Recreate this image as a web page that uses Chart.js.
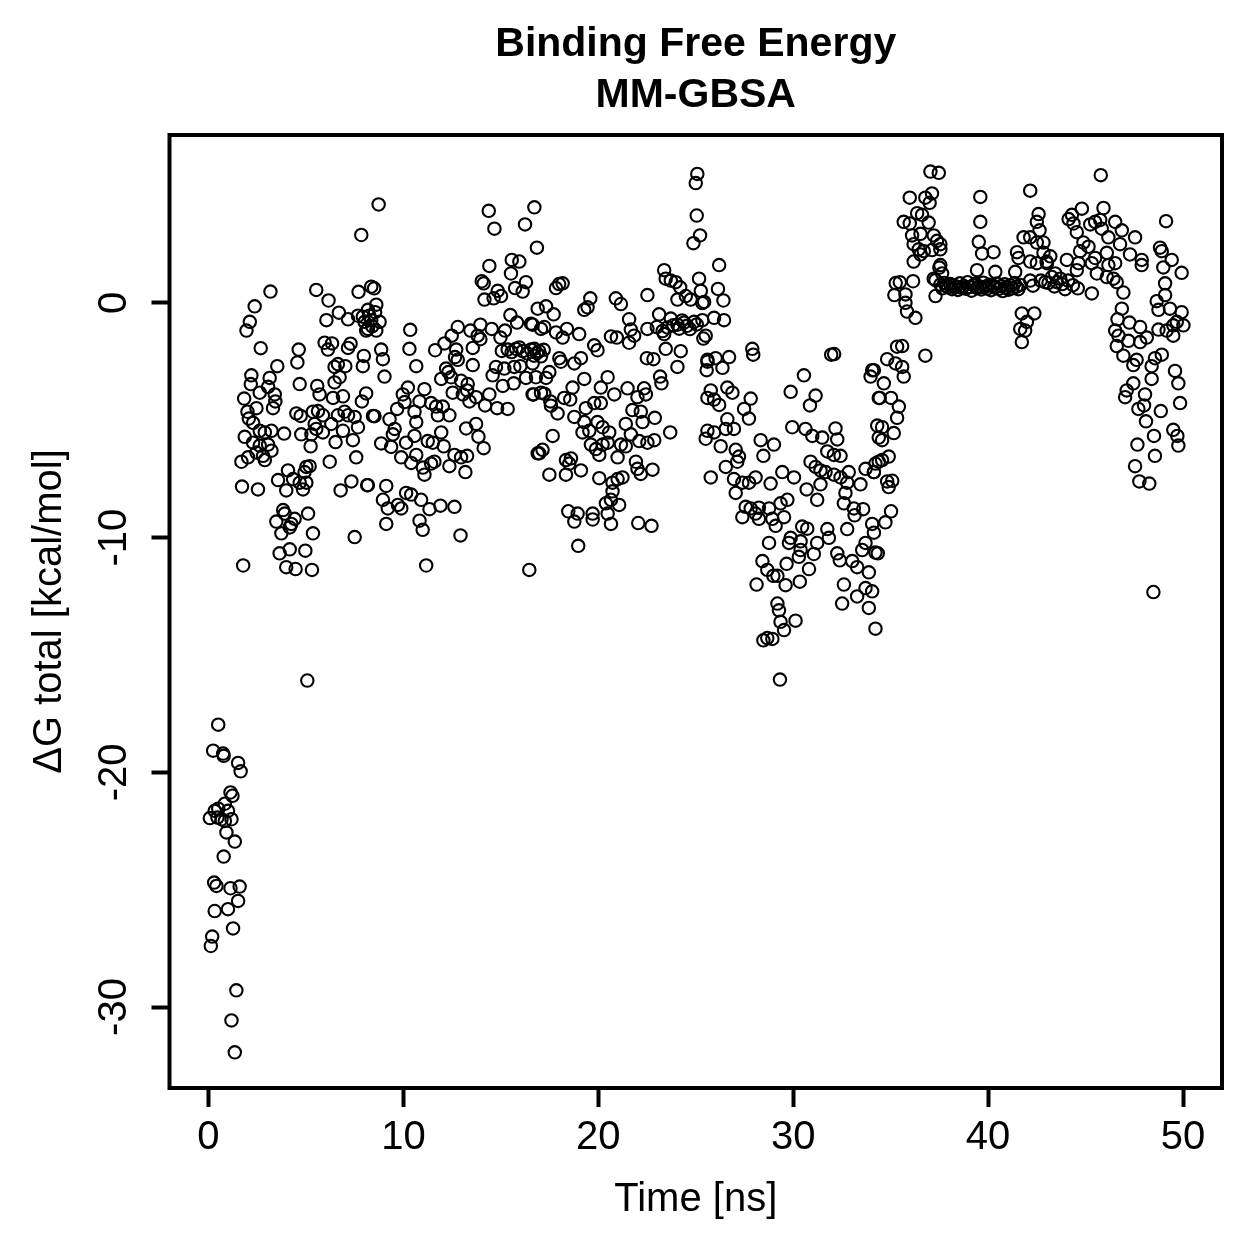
<!DOCTYPE html>
<html>
<head>
<meta charset="utf-8">
<script src="https://cdn.jsdelivr.net/npm/chart.js@4.4.1/dist/chart.umd.min.js"></script>
<style>
html,body{margin:0;padding:0;background:#ffffff;}
#wrap{width:1259px;height:1259px;}
</style>
</head>
<body>
<div id="wrap"><canvas id="c" width="1259" height="1259"></canvas></div>
<script>
// ---- Data: [time (ns), ΔG total (kcal/mol)] ----
const phaseA = [[0.50,-17.97],[0.24,-19.08],[0.75,-19.20],[0.78,-19.30],[1.52,-19.60],[1.65,-19.96],[1.13,-20.86],[1.23,-21.00],[0.84,-21.34],[0.50,-21.55],
[1.00,-21.64],[0.32,-21.64],[0.07,-21.95],[0.46,-21.93],[0.67,-22.00],[0.84,-22.07],[1.18,-22.00],[0.92,-22.56],[1.35,-22.95],[0.78,-23.59],
[0.29,-24.70],[0.41,-24.84],[1.13,-24.94],[1.60,-24.87],[1.52,-25.48],[1.00,-25.83],[0.32,-25.91],[1.26,-26.65],[0.19,-27.00],[0.12,-27.40],
[1.43,-29.29],[1.18,-30.57],[1.35,-31.93]];

const phaseB = [[7.84,2.89],[3.18,0.48],[5.53,0.55],[6.16,0.10],[7.70,0.47],[8.35,0.69],[2.37,-0.15],[2.12,-0.81],[1.95,-1.18],[6.05,-0.74],
[6.69,-0.42],[7.16,-0.70],[7.67,-0.55],[8.01,-0.81],[8.09,-1.18],[2.68,-1.93],[4.63,-1.99],[4.56,-2.54],[5.96,-1.70],[6.34,-1.73],
[6.13,-1.99],[7.16,-1.92],[7.29,-1.74],[7.97,-2.26],[7.92,-2.70],[3.53,-2.70],[6.47,-2.73],[6.64,-2.61],[7.02,-2.70],[2.20,-3.09],
[3.14,-3.20],[6.73,-3.17],[6.47,-3.39],[2.17,-3.46],[3.06,-3.58],[2.63,-3.83],[4.68,-3.46],[5.58,-3.54],[5.70,-3.90],[6.90,-3.98],
[6.39,-4.05],[8.09,-3.86],[7.87,-4.20],[1.83,-4.08],[3.40,-3.90],[3.43,-4.20],[3.31,-4.49],[2.46,-4.49],[2.00,-4.64],[2.07,-4.93],
[2.29,-5.11],[4.51,-4.71],[4.73,-4.82],[5.36,-4.64],[5.62,-4.61],[5.87,-4.79],[6.64,-4.79],[6.98,-4.64],[7.16,-4.79],[7.50,-4.86],
[7.67,-5.30],[8.44,-4.82],[5.45,-5.16],[5.53,-5.37],[5.87,-5.52],[6.30,-5.16],[6.90,-5.45],[3.88,-5.57],[4.76,-5.60],[5.28,-5.60],
[1.86,-5.71],[2.63,-5.45],[2.89,-5.52],[3.23,-5.45],[2.29,-5.96],[2.63,-6.08],[3.06,-6.04],[3.23,-6.30],[2.46,-6.38],[2.80,-6.52],
[2.89,-6.70],[5.24,-6.11],[6.52,-5.93],[7.41,-5.85],[2.03,-6.58],[1.69,-6.77],[6.22,-6.77],[7.58,-6.58],[4.08,-7.14],[5.02,-6.99],
[5.19,-6.96],[4.93,-7.21],[3.57,-7.55],[4.34,-7.51],[4.68,-7.66],[5.02,-7.66],[1.72,-7.83],[2.54,-7.95],[3.99,-7.99],[4.85,-7.95],
[6.78,-7.99],[7.33,-7.61],[8.14,-7.77],[3.83,-8.83],[3.91,-8.98],[3.48,-9.32],[4.42,-9.20],[4.25,-9.42],[4.17,-9.57],[5.11,-8.98],
[3.74,-9.82],[5.36,-9.82],[7.50,-9.98],[4.17,-10.50],[4.97,-10.56],[3.65,-10.67],[1.78,-11.19],[3.99,-11.26],[4.47,-11.34],[5.31,-11.38],
[5.07,-16.09],[8.25,-0.55],[8.40,-1.00],[8.55,-0.40]];

const phaseC = [[8.73,4.19],[14.38,3.92],[14.67,3.16],[16.72,4.07],[16.24,3.34],[16.85,2.35],[14.41,1.57],[15.56,1.83],[15.95,1.76],[15.52,1.25],
[14.02,0.92],[14.12,0.83],[14.84,0.51],[14.63,0.19],[15.01,0.29],[14.16,0.14],[15.73,0.63],[16.29,0.88],[16.12,0.48],[16.89,-0.25],
[8.50,0.62],[8.61,-0.08],[8.18,-0.30],[7.92,-0.59],[8.35,-0.74],[8.78,-0.81],[8.61,-1.18],[8.18,-1.11],[10.35,-1.15],[10.31,-1.96],
[10.66,-2.70],[8.86,-1.99],[8.95,-2.40],[9.03,-3.14],[8.52,-4.83],[11.63,-2.02],[12.11,-1.73],[12.48,-1.40],[12.79,-1.03],[13.44,-1.18],
[13.81,-1.40],[13.95,-1.55],[13.95,-0.93],[13.56,-1.92],[14.53,-1.11],[14.98,-1.48],[15.21,-1.18],[15.49,-0.52],[15.83,-0.84],[16.55,-0.89],
[17.06,-1.11],[12.71,-1.99],[12.79,-2.43],[12.65,-2.31],[13.56,-2.65],[12.19,-2.80],[12.31,-2.95],[11.94,-3.24],[12.45,-3.17],[12.96,-3.32],
[13.30,-3.46],[13.27,-3.73],[12.53,-3.83],[13.05,-3.90],[13.39,-4.20],[13.73,-4.02],[14.19,-4.37],[14.41,-3.90],[14.58,-3.09],[14.75,-2.73],
[15.18,-2.80],[15.35,-1.99],[15.78,-1.96],[16.12,-2.06],[16.55,-1.99],[16.85,-2.14],[15.69,-2.73],[16.00,-2.70],[16.29,-3.20],[16.80,-3.17],
[16.68,-3.90],[17.06,-3.83],[15.10,-3.54],[15.66,-3.43],[14.81,-4.49],[15.35,-4.52],[11.08,-3.68],[10.23,-3.61],[9.97,-3.90],[9.68,-4.52],
[10.06,-4.23],[10.57,-4.64],[10.83,-4.20],[11.42,-4.27],[11.68,-4.42],[12.02,-4.42],[12.36,-4.79],[11.77,-4.79],[10.66,-5.08],[9.29,-4.96],
[9.55,-5.37],[9.46,-5.60],[8.86,-5.99],[9.37,-6.14],[10.14,-5.96],[10.57,-5.67],[11.25,-5.89],[11.51,-5.96],[11.94,-5.52],[12.07,-6.11],
[13.22,-5.35],[13.73,-5.16],[13.85,-5.70],[14.12,-6.19],[9.89,-6.58],[10.40,-6.82],[10.66,-6.48],[11.00,-7.02],[11.08,-7.32],[11.42,-6.85],
[11.59,-6.77],[12.36,-6.96],[12.62,-6.48],[12.96,-6.58],[13.27,-6.52],[13.18,-7.21],[16.89,-6.41],[8.18,-7.77],[9.12,-7.80],[8.95,-8.39],
[9.20,-8.76],[9.72,-8.61],[9.89,-8.76],[10.14,-8.10],[10.40,-8.17],[10.91,-8.39],[11.34,-8.79],[11.90,-8.64],[12.62,-8.69],[9.12,-9.42],
[10.83,-9.28],[10.99,-9.67],[12.93,-9.91],[11.17,-11.19],[16.46,-11.38],
[15.05,-2.05],[15.55,-2.10],[15.95,-1.90],[16.35,-2.15],[16.70,-2.25],[17.20,-2.00]];

const phaseD = [[25.08,5.49],[25.00,5.10],[25.05,3.72],[25.22,2.87],[24.88,2.54],[23.38,1.39],[23.46,1.03],[23.72,0.95],[23.97,0.88],[24.20,0.66],
[25.17,1.03],[25.26,0.51],[24.49,0.29],[24.74,0.14],[24.06,0.14],[25.34,-0.01],[22.52,0.33],[20.90,0.19],[21.16,-0.05],[19.59,0.19],
[19.45,-0.19],[19.28,-0.30],[17.99,0.80],[18.17,0.83],[17.83,0.63],[17.32,-0.15],[17.71,-0.49],[16.63,-0.93],[17.23,-1.03],[17.83,-1.26],
[18.17,-1.48],[18.39,-1.11],[19.02,-1.33],[19.79,-1.81],[19.96,-2.02],[20.65,-1.43],[20.95,-1.48],[21.58,-0.70],[21.67,-1.14],[21.84,-1.40],
[21.58,-1.70],[22.52,-1.11],[23.12,-0.49],[23.00,-1.03],[23.38,-1.33],[23.72,-0.67],[24.06,-0.93],[24.40,-0.84],[24.91,-0.81],[25.34,-0.74],
[25.39,-1.52],[23.46,-1.96],[24.23,-2.06],[24.06,-2.73],[22.49,-2.36],[22.83,-2.40],[23.17,-3.14],[23.24,-3.43],[25.60,-2.51],[25.56,-2.87],
[16.72,-1.96],[16.97,-2.06],[17.06,-2.28],[16.63,-2.58],[17.49,-2.95],[17.32,-3.20],[18.00,-2.36],[18.08,-2.51],[18.77,-2.58],[19.11,-2.36],
[19.28,-3.24],[18.68,-3.61],[16.63,-3.90],[17.23,-3.87],[17.54,-4.20],[17.57,-4.38],[17.91,-4.71],[18.25,-4.05],[18.56,-4.12],[20.48,-3.17],
[20.13,-3.61],[20.82,-3.90],[21.50,-3.64],[22.01,-4.02],[22.35,-3.64],[22.44,-3.90],[19.79,-4.27],[20.13,-4.27],[19.36,-4.49],[18.77,-4.86],
[19.28,-5.08],[19.96,-5.08],[19.19,-5.52],[19.54,-5.45],[20.22,-5.30],[20.56,-5.52],[21.75,-4.57],[22.18,-4.64],[22.27,-5.08],[21.41,-5.16],
[21.67,-5.60],[22.90,-4.90],[23.69,-5.52],[22.10,-5.89],[22.52,-5.96],[22.87,-5.85],[21.16,-6.04],[21.41,-6.11],[19.62,-6.04],[19.88,-6.23],
[20.22,-6.04],[20.48,-5.96],[20.05,-6.48],[20.99,-6.58],[17.66,-5.67],[17.14,-6.26],[16.97,-6.41],[18.34,-6.70],[18.60,-6.63],[18.51,-6.85],
[19.11,-7.14],[17.49,-7.32],[18.34,-7.32],[20.05,-7.47],[20.73,-7.66],[20.99,-7.51],[21.24,-7.44],[21.93,-6.77],[22.01,-7.07],[22.18,-7.29],
[22.78,-7.11],[20.73,-8.03],[20.65,-8.39],[20.39,-8.54],[21.07,-8.61],[20.48,-8.98],[18.46,-8.88],[18.94,-8.98],[18.77,-9.32],[19.71,-8.98],
[19.71,-9.23],[20.65,-9.42],[22.05,-9.38],[22.73,-9.50],[18.97,-10.35],
[23.55,-1.05],[23.85,-0.95],[24.15,-1.10],[24.55,-0.98],[24.70,-1.12],[25.05,-0.92],[23.30,-1.20],[24.30,-0.75]];

const phaseE = [[26.20,1.61],[26.14,0.59],[26.42,0.10],[25.43,0.04],[25.94,-0.64],[26.45,-0.74],[25.51,-1.40],[25.60,-2.43],[26.02,-2.36],[26.71,-2.31],
[26.37,-2.77],[27.90,-1.96],[27.95,-2.21],[30.55,-3.09],[31.95,-2.21],[32.10,-2.18],[34.05,-2.87],[33.97,-3.14],[29.87,-3.79],[31.15,-3.95],
[30.86,-4.37],[34.39,-4.05],[25.77,-3.73],[26.62,-3.61],[26.88,-3.83],[25.60,-4.05],[25.94,-4.12],[26.20,-4.35],[27.48,-4.52],[27.82,-4.08],
[27.73,-4.93],[26.62,-4.96],[26.54,-5.37],[26.96,-5.37],[25.60,-5.45],[25.94,-5.52],[25.51,-5.79],[26.28,-6.11],[27.05,-6.26],[27.22,-6.55],
[27.13,-6.77],[26.54,-6.99],[25.77,-7.44],[28.33,-5.85],[29.01,-6.04],[28.47,-6.52],[29.95,-5.30],[30.63,-5.37],[30.98,-5.67],[31.49,-5.74],
[32.17,-5.35],[32.26,-5.82],[31.75,-6.33],[32.09,-6.48],[32.43,-6.52],[30.89,-6.77],[31.15,-6.99],[31.40,-7.14],[31.66,-7.21],[32.09,-7.32],
[32.43,-7.44],[32.85,-7.21],[33.71,-7.07],[34.14,-7.21],[34.39,-6.77],[29.44,-7.21],[30.04,-7.44],[28.84,-7.70],[26.96,-7.51],[27.39,-7.66],
[27.73,-7.66],[28.07,-7.44],[27.05,-8.10],[32.77,-7.66],[33.45,-7.73],[31.40,-7.73],[30.69,-7.95],[31.23,-8.39],[29.70,-8.39],[29.35,-8.54],
[32.68,-8.10],[32.60,-8.54],[33.11,-8.76],[33.59,-8.79],[33.15,-9.05],[32.77,-9.64],[27.56,-8.69],[27.82,-8.76],[28.24,-8.73],[28.07,-8.98],
[28.24,-9.20],[28.76,-8.76],[28.93,-9.20],[29.53,-9.13],[29.10,-9.50],[27.39,-9.13],[30.46,-9.53],[30.72,-9.62],[31.75,-9.64],[29.87,-10.01],
[29.78,-10.23],[30.38,-10.16],[31.23,-10.23],[31.83,-10.01],[28.76,-10.23],[30.38,-10.53],[30.29,-10.82],[31.06,-10.70],[32.26,-10.67],[32.39,-10.97],
[33.03,-11.00],[33.28,-11.26],[33.88,-11.48],[34.05,-9.42],[34.14,-9.79],[33.71,-10.23],[34.22,-10.64],[33.54,-10.53],[28.42,-11.00],[28.67,-11.38],
[28.98,-11.63],[29.19,-11.63],[29.66,-11.12],[29.61,-12.03],[28.12,-12.00],[30.34,-11.88],[30.81,-11.34],[32.60,-12.00],[32.51,-12.81],[33.28,-12.51],
[33.71,-12.15],[33.88,-13.00],[34.22,-13.88],[29.19,-12.81],[29.27,-13.10],[29.35,-13.59],[30.12,-13.54],[29.53,-13.94],[28.67,-14.28],[28.47,-14.38],
[28.93,-14.32],[29.32,-16.05]];

const phaseF = [[37.04,5.59],[37.47,5.54],[35.98,4.48],[36.78,4.48],[37.12,4.66],[37.00,4.26],[39.60,4.51],[42.16,4.78],[36.36,3.82],[36.61,3.75],
[35.67,3.45],[35.98,3.38],[36.95,3.42],[36.10,2.87],[36.53,2.94],[37.21,2.87],[37.38,2.64],[37.55,2.50],[36.18,2.50],[36.44,2.28],
[36.70,2.20],[37.12,2.25],[37.55,2.28],[36.53,2.06],[39.60,3.45],[42.59,3.78],[42.50,3.45],[42.64,3.09],[39.52,2.60],[39.69,2.10],
[40.28,2.16],[41.48,2.16],[41.56,1.91],[41.82,2.79],[42.16,2.79],[42.50,2.57],[42.84,2.57],[42.84,2.13],[42.16,1.76],[42.50,1.69],
[43.00,1.76],[36.18,1.76],[37.55,1.61],[37.64,1.25],[37.21,1.03],[39.43,1.39],[40.37,1.32],[41.39,1.32],[42.16,0.95],[42.30,0.73],
[42.93,0.88],[36.15,0.92],[35.47,0.88],[35.19,0.33],[35.76,0.36],[37.30,0.29],[35.76,0.00],[35.84,-0.37],[36.27,-0.64],[41.73,-0.45],
[42.37,-0.45],[41.99,-0.81],[41.65,-1.11],[41.90,-1.18],[41.73,-1.67],[36.78,-2.25],[35.33,-1.87],[35.59,-1.84],[34.82,-2.40],[35.25,-2.58],
[35.59,-2.73],[35.67,-3.14],[34.14,-2.87],[34.65,-3.43],[34.44,-4.05],[35.02,-4.05],[35.42,-4.42],[35.33,-4.90],[34.31,-5.23],[34.56,-5.30],
[35.16,-5.55],[34.39,-5.74],[34.56,-5.85],[34.90,-6.55],[34.56,-6.70],[34.22,-6.85],[34.14,-7.21],[34.82,-7.61],[35.08,-7.58],[34.90,-7.85],
[35.02,-8.88],[34.73,-9.35],[34.34,-10.67],[34.05,-12.29],[35.26,0.84],[37.30,0.97],[37.50,1.50]];

const plateau = [[37.55,0.78],[37.65,0.62],[37.75,0.85],[37.85,0.71],[37.95,0.66],[38.05,0.80],[38.15,0.58],[38.25,0.74],[38.35,0.69],[38.45,0.55],
[38.55,0.83],[38.65,0.64],[38.75,0.72],[38.85,0.60],[38.95,0.88],[39.05,0.67],[39.15,0.52],[39.25,0.75],[39.35,0.81],[39.45,0.63],
[39.55,0.70],[39.65,0.57],[39.75,0.86],[39.85,0.68],[39.95,0.61],[40.05,0.77],[40.15,0.54],[40.25,0.73],[40.35,0.65],[40.45,0.82],
[40.55,0.59],[40.65,0.71],[40.75,0.50],[40.85,0.79],[40.95,0.66],[41.05,0.56],[41.15,0.74],[41.25,0.62],[41.35,0.84],[41.45,0.69],
[41.55,0.58],[41.65,0.76]];

const phaseG = [[45.78,5.44],[49.13,3.48],[44.81,4.01],[45.92,4.04],[44.30,3.75],[44.38,3.38],[44.55,3.01],[44.13,3.57],[45.24,3.34],[45.49,3.45],
[45.75,3.53],[45.83,3.16],[46.52,3.45],[46.86,3.09],[47.54,2.79],[46.77,2.50],[46.17,2.79],[44.89,2.57],[45.15,2.39],[44.72,2.20],
[46.09,2.13],[47.28,2.06],[47.88,1.83],[47.88,1.61],[48.82,2.35],[48.91,2.20],[49.42,1.83],[49.93,1.28],[48.99,1.51],[49.08,0.83],
[49.08,0.33],[48.65,0.07],[48.74,-0.30],[49.33,-0.25],[49.93,-0.40],[50.02,-0.96],[49.50,-0.96],[49.68,-0.81],[49.16,-1.18],[49.50,-1.40],
[48.74,-1.14],[45.49,1.91],[45.32,1.69],[45.58,1.25],[45.32,0.40],[46.17,1.61],[46.09,1.10],[46.43,1.03],[46.60,0.88],[46.94,0.44],
[46.52,1.69],[46.86,-0.25],[46.64,-0.70],[47.25,-0.84],[46.52,-1.18],[46.69,-1.40],[47.20,-1.62],[46.60,-1.84],[47.80,-1.03],[47.80,-1.67],
[48.14,-1.48],[46.94,-2.25],[47.45,-2.65],[47.62,-2.43],[48.39,-2.70],[48.56,-2.36],[48.91,-2.21],[48.39,-3.24],[49.59,-2.90],[49.76,-3.43],
[47.45,-3.43],[47.11,-3.73],[47.03,-4.02],[48.05,-3.90],[48.00,-4.37],[47.71,-4.52],[48.10,-5.05],[48.86,-4.61],[49.85,-4.27],[49.50,-5.41],
[49.71,-5.67],[49.76,-6.08],[48.51,-5.67],[47.66,-6.04],[48.56,-6.52],[47.54,-6.96],[47.76,-7.61],[48.27,-7.70],[48.48,-12.32],[43.19,1.98],
[43.02,1.69],[43.44,1.25],[43.70,1.03],[43.95,0.58],[43.53,0.88],[43.27,1.10],[44.04,1.83],[44.55,1.39],[44.64,1.69],
[43.10,0.85],[43.40,0.70],[43.80,0.80],[44.10,0.95],[44.35,0.75],[44.60,0.62],[42.70,0.95]];

const xTickValues = [0, 10, 20, 30, 40, 50];
const yTickValues = [-30, -20, -10, 0];
const titleLines = ['Binding Free Energy', 'MM-GBSA'];
const xTitle = 'Time [ns]';
const yTitle = 'ΔG total [kcal/mol]';

// ---- Chart ----
const FONT = "'Liberation Sans', Arial, Helvetica, sans-serif";
Chart.defaults.font.family = FONT;
Chart.defaults.color = '#000';

const allPoints = [].concat(phaseA, phaseB, phaseC, phaseD, phaseE, phaseF, plateau, phaseG)
  .map(p => ({x: p[0], y: p[1]}));

const frameBox = {
  id: 'frameBox',
  afterDatasetsDraw(chart) {
    const {ctx, chartArea: a} = chart;
    ctx.save();
    ctx.strokeStyle = '#000';
    ctx.lineWidth = 4;
    ctx.strokeRect(a.left, a.top, a.right - a.left, a.bottom - a.top);
    ctx.restore();
  }
};

new Chart(document.getElementById('c'), {
  type: 'scatter',
  data: {
    datasets: [{
      data: allPoints,
      pointStyle: 'circle',
      pointRadius: 6.2,
      pointHoverRadius: 6.2,
      pointBorderWidth: 2.1,
      pointBorderColor: '#000',
      pointBackgroundColor: 'rgba(0,0,0,0)',
      showLine: false
    }]
  },
  options: {
    responsive: false,
    animation: false,
    devicePixelRatio: 1,
    events: [],
    layout: { padding: { top: 0, left: 0, right: 37, bottom: 0 } },
    plugins: {
      legend: { display: false },
      tooltip: { enabled: false },
      title: {
        display: true,
        fullSize: false,
        text: titleLines,
        color: '#000',
        font: { family: FONT, size: 41, weight: 'bold', lineHeight: '51px' },
        padding: { top: 19, bottom: 14 }
      }
    },
    scales: {
      x: {
        type: 'linear',
        position: 'bottom',
        min: -2,
        max: 52,
        afterBuildTicks: s => { s.ticks = xTickValues.map(v => ({ value: v })); },
        afterFit: s => { s.height = 171; },
        border: { display: false },
        grid: { display: true, drawOnChartArea: false, drawTicks: true, tickLength: 19, tickWidth: 4, tickColor: '#000' },
        ticks: { color: '#000', font: { family: FONT, size: 40 }, padding: 7, maxRotation: 0, autoSkip: false, callback: v => String(v) },
        title: { display: true, text: xTitle, color: '#000', font: { family: FONT, size: 40 }, padding: { top: 0, bottom: 35 } }
      },
      y: {
        type: 'linear',
        position: 'left',
        min: -33.45,
        max: 7.15,
        afterBuildTicks: s => { s.ticks = yTickValues.map(v => ({ value: v })); },
        afterFit: s => { s.width = 169.5; },
        border: { display: false },
        grid: { display: true, drawOnChartArea: false, drawTicks: true, tickLength: 18, tickWidth: 4, tickColor: '#000' },
        ticks: { color: '#000', font: { family: FONT, size: 40 }, padding: 7.6, minRotation: 90, maxRotation: 90, crossAlign: 'center', autoSkip: false, callback: v => String(v) },
        title: { display: true, text: yTitle, color: '#000', font: { family: FONT, size: 40 }, padding: { top: 26, bottom: 0 } }
      }
    }
  },
  plugins: [frameBox]
});
</script>
</body>
</html>
